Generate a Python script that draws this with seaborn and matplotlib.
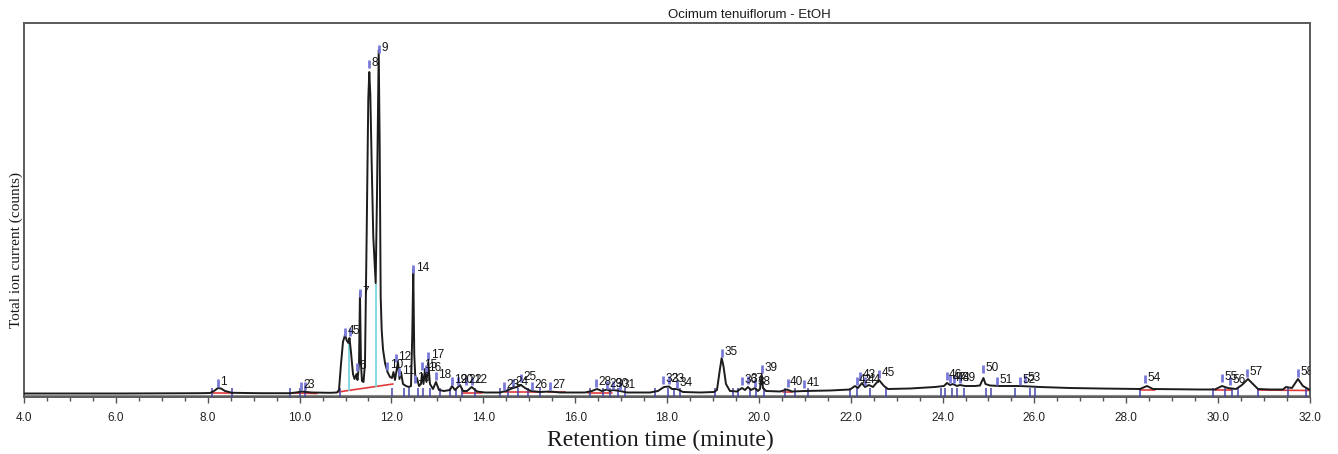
import matplotlib
matplotlib.use('Agg')
import numpy as np
import pandas as pd
import matplotlib.pyplot as plt
from matplotlib.ticker import MultipleLocator
import seaborn as sns

# chromatogram trace (retention time in min, relative signal)
trace_time = [4.000, 6.090, 7.832, 8.050, 8.137, 8.224, 8.289, 8.376, 8.529, 9.138,
              9.791, 9.922, 10.053, 10.140, 10.270, 10.662, 10.815, 10.858, 10.902, 10.945,
              10.989, 11.032, 11.065, 11.087, 11.119, 11.163, 11.196, 11.239, 11.261, 11.294,
              11.315, 11.337, 11.359, 11.392, 11.424, 11.461, 11.496, 11.518, 11.540, 11.570,
              11.605, 11.657, 11.686, 11.723, 11.744, 11.766, 11.788, 11.816, 11.860, 11.914,
              11.969, 12.012, 12.045, 12.077, 12.143, 12.175, 12.208, 12.252, 12.317, 12.382,
              12.426, 12.454, 12.476, 12.497, 12.524, 12.556, 12.600, 12.643, 12.665, 12.698,
              12.731, 12.763, 12.802, 12.839, 12.905, 12.970, 13.035, 13.144, 13.275, 13.318,
              13.384, 13.449, 13.493, 13.558, 13.645, 13.747, 13.863, 14.037, 14.363, 14.494,
              14.647, 14.734, 14.821, 14.908, 15.038, 15.234, 15.452, 15.670, 16.214, 16.366,
              16.475, 16.584, 16.693, 16.758, 16.824, 16.976, 17.128, 17.629, 17.803, 17.934,
              18.043, 18.108, 18.217, 18.348, 18.718, 19.023, 19.088, 19.153, 19.190, 19.229,
              19.284, 19.371, 19.523, 19.632, 19.698, 19.763, 19.828, 19.915, 19.981, 20.024,
              20.061, 20.090, 20.155, 20.460, 20.612, 20.721, 21.004, 21.548, 21.984, 22.093,
              22.158, 22.245, 22.310, 22.397, 22.484, 22.615, 22.724, 22.811, 23.290, 23.834,
              24.030, 24.096, 24.161, 24.226, 24.313, 24.379, 24.487, 24.705, 24.814, 24.858,
              24.890, 24.934, 25.032, 25.249, 25.685, 26.120, 26.774, 27.427, 28.298, 28.450,
              28.581, 29.604, 29.930, 30.083, 30.213, 30.300, 30.388, 30.518, 30.649, 30.758,
              30.867, 31.128, 31.411, 31.476, 31.607, 31.738, 31.846, 32.000]
trace_signal = [0.5, 0.5, 0.8, 1, 3, 6, 5.5, 3, 1.2, 0.8,
                0.8, 1.5, 2.5, 2, 1.5, 1.2, 1.5, 4, 30, 52,
                59, 53, 51, 56, 42, 20, 15, 20, 14, 30,
                101, 30, 13, 12, 30, 160, 295, 322, 300, 231,
                157, 111, 200, 344, 250, 97, 64, 45, 31, 22,
                17, 16, 22, 14, 32, 15, 22, 10, 8, 7,
                8, 60, 125, 40, 12, 16, 8, 10, 20, 10,
                25, 12, 32, 10, 5, 12, 4, 3, 4, 8,
                4, 7, 9, 3, 3, 7, 2.5, 1.5, 1.5, 3,
                6, 7, 9, 6, 3, 2, 2.5, 1.5, 1.5, 3,
                5, 3, 4.5, 3, 4, 3, 1.5, 1.5, 3, 7,
                7.5, 5, 5, 2, 1.5, 2, 4, 25, 36, 28,
                10, 3, 2.5, 6, 4, 7, 4, 6, 3, 5,
                19, 6, 3, 2.5, 4.5, 2.5, 3, 3.5, 4.5, 8,
                6, 11, 7, 9, 7, 14, 8, 5, 5.5, 7,
                8, 11, 9, 10, 8, 9, 8, 8, 8.5, 13,
                16, 10, 8.5, 8, 8, 7, 6, 5.5, 5, 8,
                5, 4.5, 4.5, 8, 6, 5.5, 5, 9, 15, 10,
                5, 4.5, 4.5, 7, 6, 15, 8, 4]

# numbered peak labels: retention time and height of the blue tick
peak_no = list(range(1, 59))
peak_time = [8.224, 10.031, 10.118, 10.989, 11.098, 11.243, 11.315, 11.518, 11.723, 11.910,
             12.175, 12.099, 12.513, 12.476, 12.659, 12.752, 12.802, 12.970, 13.312, 13.449,
             13.623, 13.754, 14.451, 14.647, 14.814, 15.054, 15.452, 16.454, 16.686, 16.824,
             16.976, 17.919, 18.043, 18.211, 19.190, 19.626, 19.770, 19.915, 20.061, 20.627,
             20.989, 22.129, 22.201, 22.310, 22.622, 24.089, 24.161, 24.248, 24.379, 24.886,
             25.178, 25.685, 25.794, 28.406, 30.076, 30.257, 30.621, 31.745]
peak_mark = [7, 4, 4, 58, 58, 23, 97, 326, 341, 24,
             18, 32, 11, 121, 24, 21, 34, 14, 9, 9,
             9, 9, 4, 7, 12, 4, 4, 7, 5, 5,
             4, 10, 10, 6, 37, 9, 10, 7, 21, 7,
             6, 9, 14, 9, 16, 14, 11, 11, 11, 21,
             9, 9, 11, 11, 12, 9, 17, 17]

# integration boundary marks
bound_time = [8.093, 8.529, 9.791, 10.009, 10.118, 10.880, 12.012, 12.273, 12.382, 12.578,
              12.687, 12.839, 13.057, 13.275, 13.406, 13.536, 13.819, 14.363, 14.538, 14.755,
              14.973, 15.234, 16.323, 16.606, 16.758, 16.933, 17.085, 17.738, 18.021, 18.152,
              18.282, 19.044, 19.436, 19.545, 19.806, 19.937, 20.111, 20.568, 20.786, 21.069,
              21.984, 22.136, 22.419, 22.767, 23.965, 24.052, 24.204, 24.313, 24.466, 24.945,
              25.054, 25.576, 25.903, 26.011, 28.298, 29.887, 30.148, 30.300, 30.431, 30.867,
              31.520, 31.912]

# red integration baselines
base_start = [8.093, 9.857, 10.836, 13.536, 14.472, 15.409, 16.279, 20.525, 28.298, 29.930, 30.867]
base_end = [8.550, 10.379, 12.034, 13.972, 15.234, 15.779, 16.802, 20.721, 28.624, 30.300, 32.000]
base_h0 = [1, 1, 2, 1.5, 2, 2, 1.5, 2.5, 4.5, 4.5, 4]
base_h1 = [1, 0.5, 10, 1.5, 2, 2, 1.5, 2.5, 4.5, 4.5, 3.5]

# cyan drop lines between co-eluting peaks
drop_time = [11.076, 11.657]
drop_low = [3, 7]
drop_high = [50, 111]

sns.set_style('ticks')
plt.rcParams['font.family'] = ['Liberation Sans', 'DejaVu Sans']

fig = plt.figure(figsize=(13.38, 4.54), dpi=100)
ax = fig.add_axes([24 / 1338, 1 - 397 / 454, 1286 / 1338, 374 / 454])

trace_df = pd.DataFrame({'time': trace_time, 'signal': trace_signal})

ax.axhline(-0.8, color='#8a8a8a', lw=0.8, zorder=1)
for t0, t1, h0, h1 in zip(base_start, base_end, base_h0, base_h1):
    ax.plot([t0, t1], [h0, h1], color='#e23a3a', lw=1.2, zorder=2)
ax.vlines(drop_time, drop_low, drop_high, color='#6fd3dc', lw=1.2, zorder=2)
ax.vlines(bound_time, -3, 6, color='#4545a8', lw=1.1, zorder=3)

sns.lineplot(data=trace_df, x='time', y='signal', ax=ax, color='#1c1c1c', lw=1.4,
             estimator=None, sort=False, zorder=4)

# peak numbers
ax.vlines(peak_time, peak_mark, np.array(peak_mark) + 8, color='#7a7ad8', lw=2, zorder=5)
for n, t, h in zip(peak_no, peak_time, peak_mark):
    ax.annotate(str(n), (t, h), xytext=(1.8, 1.5), textcoords='offset points',
                fontsize=8.5, ha='left', va='baseline', color='#151515', zorder=6,
                annotation_clip=True, clip_on=True)

ax.set_xlim(4, 32)
ax.set_ylim(-3, 371)
ax.set_xticks(np.arange(4, 32.1, 2))
ax.set_xticklabels([f'{v:.1f}' for v in np.arange(4, 32.1, 2)])
ax.xaxis.set_minor_locator(MultipleLocator(0.5))
ax.set_yticks([])
ax.tick_params(axis='x', which='major', length=4, width=1, color='#555555', pad=7,
               labelsize=8.5, labelcolor='#222222')
ax.tick_params(axis='x', which='minor', length=3, width=1, color='#555555')
ax.set_xlabel('')
ax.set_ylabel('')
for s in ax.spines.values():
    s.set_visible(True)
    s.set_color('#5a5a5a')
    s.set_linewidth(1.4)

fig.text(749 / 1338, 1 - 14.5 / 454, 'Ocimum tenuiflorum - EtOH', ha='center', va='center',
         fontsize=9.5, color='#1a1a1a')
fig.text(660 / 1338, 1 - 440 / 454, 'Retention time (minute)', ha='center', va='center',
         fontsize=17, family=['Liberation Serif', 'DejaVu Serif'], color='#1a1a1a')
fig.text(16 / 1338, 1 - 250 / 454, 'Total ion current (counts)', ha='center', va='center',
         rotation=90, fontsize=11, family=['Liberation Serif', 'DejaVu Serif'], color='#1a1a1a')

fig.savefig('out.png', dpi=100)
